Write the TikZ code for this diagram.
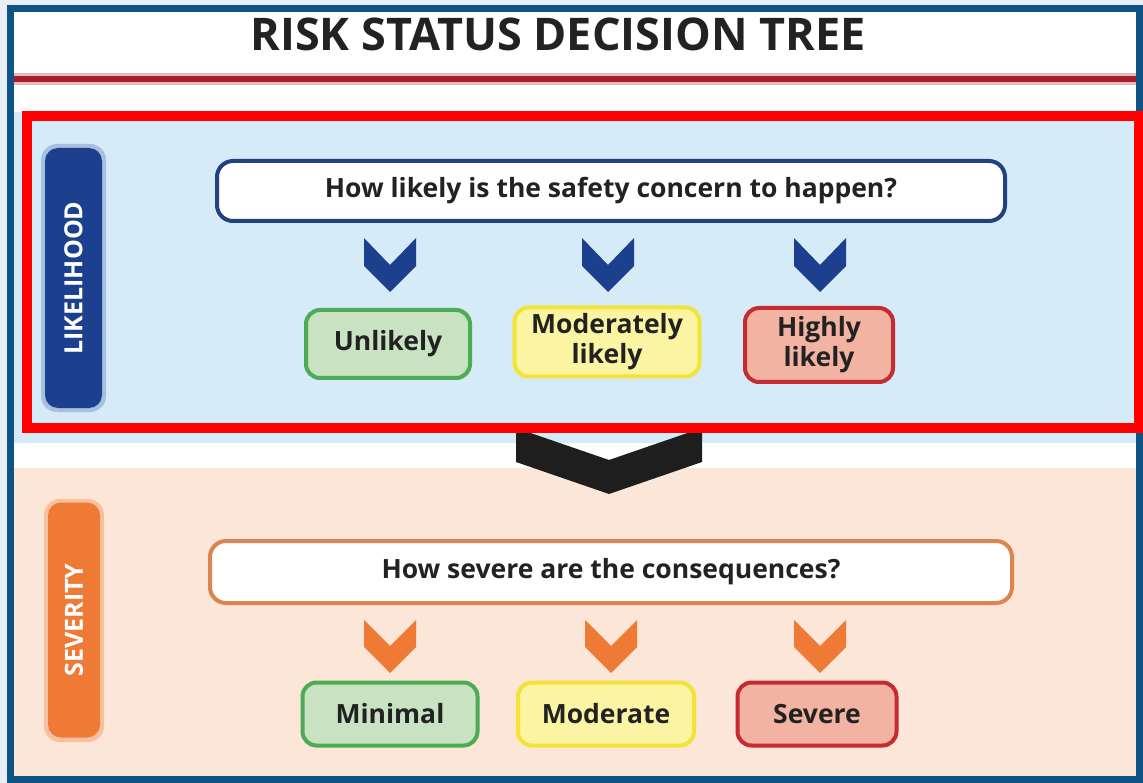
\documentclass[tikz,border=0pt]{standalone}
\usepackage{fontspec}
\setmainfont{Open Sans}
\definecolor{bgout}{HTML}{E7EEF4}
\definecolor{framec}{HTML}{0D5484}
\definecolor{redline}{HTML}{A5202A}
\definecolor{lblue}{HTML}{D5EBF8}
\definecolor{peach}{HTML}{FCE6D7}
\definecolor{navy}{HTML}{1C3F8E}
\definecolor{qblue}{HTML}{23407F}
\definecolor{orng}{HTML}{EF7A36}
\definecolor{qorng}{HTML}{DD8550}
\definecolor{gborder}{HTML}{4DAA55}
\definecolor{gfill}{HTML}{C8E2C2}
\definecolor{yborder}{HTML}{F2E437}
\definecolor{yfill}{HTML}{FBF4A2}
\definecolor{rborder}{HTML}{C52B30}
\definecolor{rfill}{HTML}{F2B3A2}
\definecolor{txt}{HTML}{222222}
\definecolor{bchev}{HTML}{1E1E1E}
\definecolor{annot}{HTML}{FF0000}
\tikzset{
  question/.style={draw, fill=white, line width=4pt, rounded corners=16pt,
    text=txt, font=\bfseries\fontsize{26.5}{28}\selectfont},
  answer/.style={line width=4pt, rounded corners=14pt, align=center,
    text=txt, font=\bfseries\fontsize{26.5}{30}\selectfont, inner sep=0pt},
  greenbox/.style={answer, draw=gborder, fill=gfill},
  yellowbox/.style={answer, draw=yborder, fill=yfill},
  redbox/.style={answer, draw=rborder, fill=rfill},
  pill/.style={rounded corners=13pt, text=white, rotate=90, inner sep=0pt,
    font=\bfseries\fontsize{25}{26}\selectfont},
}
\begin{document}
\begin{tikzpicture}[x=1pt,y=-1pt]
\useasboundingbox (0,0) rectangle (1143,783);
% background and frame
\fill[bgout] (0,0) rectangle (1143,783);
\fill[framec] (7,5) rectangle (1143,783);
\fill[white] (14,12) rectangle (1136,776);
% title
\node[text=txt, font=\bfseries\fontsize{45}{48}\selectfont] (title) at (558,34) {RISK STATUS DECISION TREE};
\draw[redline!30, line width=12pt] (14,79) -- (1136,79);
\draw[redline, line width=6pt] (14,79) -- (1136,79);
% sections
\fill[lblue] (14,112) rectangle (1136,443);
\fill[peach] (14,468) rectangle (1136,776);
% big black chevron
\fill[bchev] (516,428) -- (609,460) -- (702,428) -- (702,462) -- (609,494) -- (516,462) -- cycle;
% side pills
\fill[navy!25!lblue, rounded corners=16pt] (41,144) rectangle (106,412);
\node[pill, fill=navy, minimum width=260pt, minimum height=57pt] (lik) at (73.5,278) {LIKELIHOOD};
\fill[orng!35!peach, rounded corners=16pt] (44,499) rectangle (104,742);
\node[pill, fill=orng, minimum width=235pt, minimum height=52pt] (sev) at (74,620) {SEVERITY};
% likelihood
\node[question, draw=qblue, minimum width=788pt, minimum height=60pt] (q1) at (611,191) {How likely is the safety concern to happen?};
\foreach \c in {390,608,820}{
  \fill[navy] (\c-26,238) -- (\c,265) -- (\c+26,238) -- (\c+26,266) -- (\c,292) -- (\c-26,266) -- cycle;
}
\node[greenbox, minimum width=164pt, minimum height=68pt] (unl) at (388,344) {Unlikely};
\node[yellowbox, minimum width=185pt, minimum height=69pt] (mod) at (607,342) {Moderately\\likely};
\node[redbox, minimum width=148pt, minimum height=74pt] (hig) at (819,345) {Highly\\likely};
% severity
\node[question, draw=qorng, minimum width=802pt, minimum height=62pt] (q2) at (611,572) {How severe are the consequences?};
\foreach \c in {390,611,820}{
  \fill[orng] (\c-26,620) -- (\c,646) -- (\c+26,620) -- (\c+26,647) -- (\c,673) -- (\c-26,647) -- cycle;
}
\node[greenbox, minimum width=175pt, minimum height=63pt] (mini) at (390,714) {Minimal};
\node[yellowbox, minimum width=176pt, minimum height=63pt] (mode) at (606,714) {Moderate};
\node[redbox, minimum width=159pt, minimum height=63pt] (sevr) at (817,714) {Severe};
% red annotation box
\draw[annot, line width=10pt] (27,116) rectangle (1139,428);
\end{tikzpicture}
\end{document}
